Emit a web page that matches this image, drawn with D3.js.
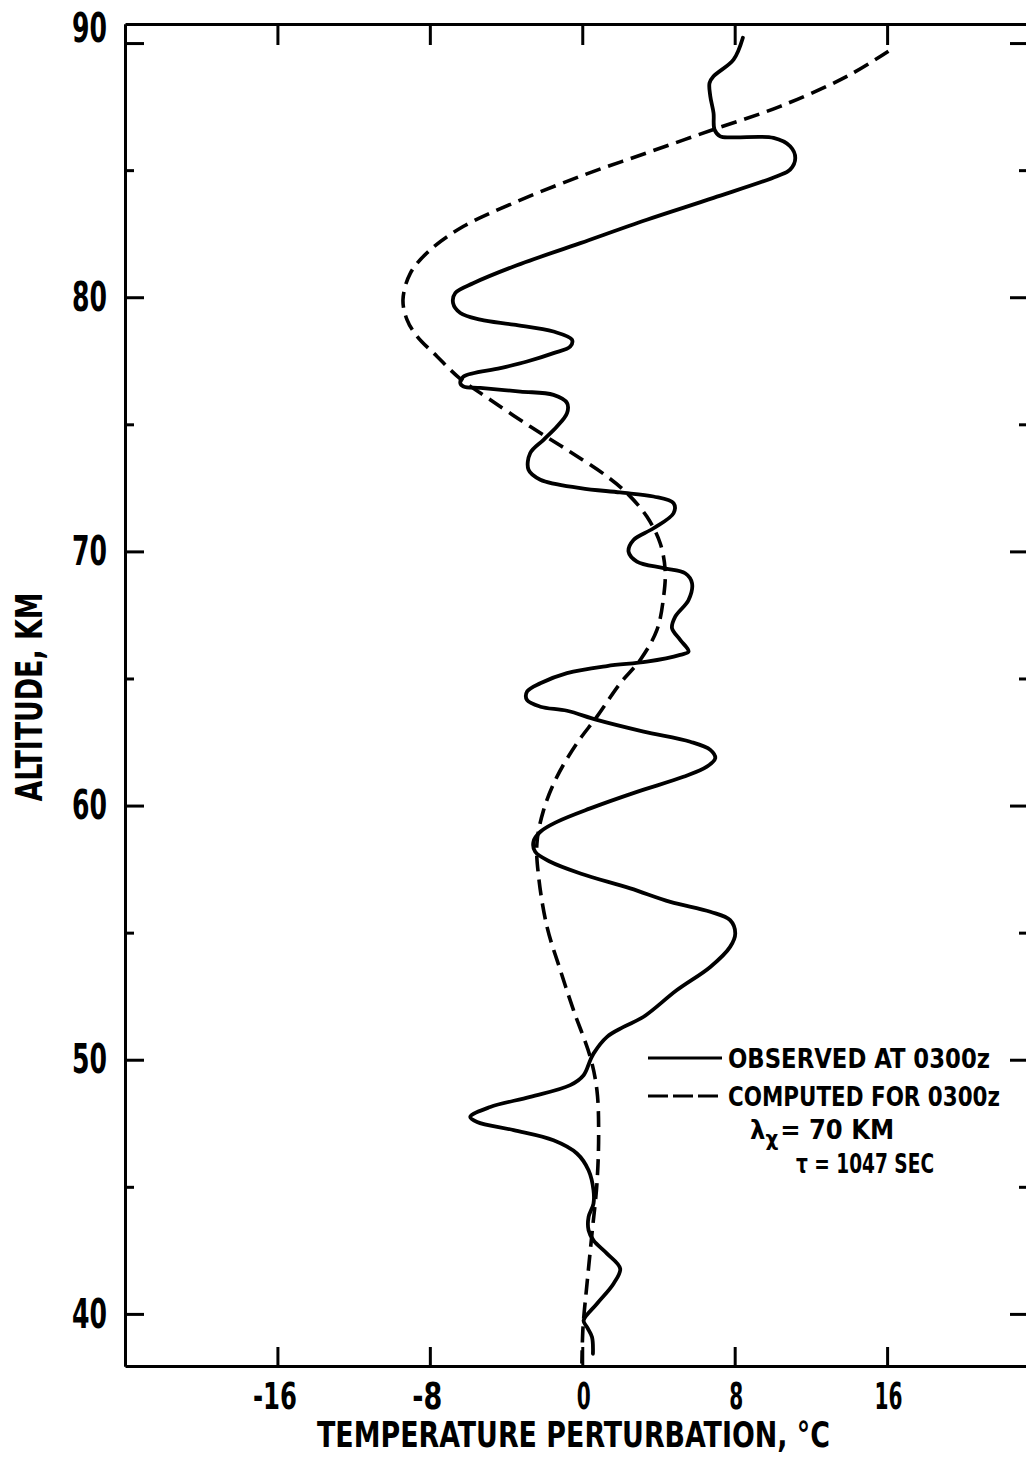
<!DOCTYPE html>
<html>
<head>
<meta charset="utf-8">
<script src="https://cdn.jsdelivr.net/npm/d3@7"></script>
<style>
  body { margin: 0; background: #fff; }
  svg { display: block; }
  text { font-family: "Liberation Sans Narrow", "DejaVu Sans Condensed", "Roboto Condensed", sans-serif; font-weight: bold; fill: #000; }
</style>
</head>
<body>
<svg id="chart" width="1026" height="1463"></svg>
<script>
// Observed temperature perturbation profile (°C) against altitude (km)
const observedTemp = [8.43, 7.94, 6.89, 6.68, 6.72, 6.89, 6.94, 7.24, 7.94, 10.04, 10.91, 11.18, 10.91, 10.22,
  6.89, 3.39, -0.10, -3.60, -5.70, -6.66, -6.78, -6.40, -5.35, -3.60, -1.51, -0.54, -0.63, -1.51, -2.90, -4.30,
  -6.23, -6.40, -6.23, -5.35, -3.25, -1.51, -0.80, -0.80, -1.33, -2.03, -2.73, -2.82, -2.20, -0.10, 1.99, 3.74,
  4.79, 4.79, 3.74, 2.69, 2.43, 2.87, 4.27, 5.40, 5.76, 5.58, 4.88, 4.71, 5.14, 5.58, 5.14, 3.39, 1.30, -0.80,
  -2.20, -2.90, -2.90, -2.20, -0.80, 0.77, 3.22, 5.67, 6.72, 6.98, 6.54, 5.31, 2.87, 0.42, -1.33, -2.20, -2.56,
  -2.47, -1.68, -0.10, 2.52, 4.62, 6.72, 7.76, 8.03, 7.76, 6.72, 4.97, 3.22, 2.17, 1.30, 0.59, 0.42, 0.07, -0.63,
  -2.73, -4.83, -5.88, -5.52, -3.60, -1.51, -0.28, 0.33, 0.59, 0.59, 0.33, 0.33, 0.59, 1.30, 1.99, 1.64, 0.77,
  0.07, 0.25, 0.51, 0.56];
const observedAlt = [90.21, 89.35, 88.69, 88.43, 87.91, 87.25, 86.60, 86.33, 86.29, 86.27, 85.94, 85.48, 85.02, 84.76,
  83.91, 83.05, 82.13, 81.21, 80.56, 80.17, 79.77, 79.38, 79.12, 78.92, 78.65, 78.33, 78.06, 77.80, 77.47, 77.21,
  76.88, 76.62, 76.49, 76.43, 76.29, 76.16, 75.84, 75.44, 74.91, 74.39, 73.87, 73.21, 72.82, 72.49, 72.32, 72.16,
  71.90, 71.50, 70.91, 70.45, 69.99, 69.60, 69.34, 69.14, 68.75, 68.09, 67.43, 66.98, 66.52, 66.06, 65.93, 65.66, 65.49, 65.21,
  64.81, 64.48, 64.15, 63.89, 63.73, 63.37, 62.91, 62.51, 62.19, 61.86, 61.53, 61.13, 60.54, 59.89, 59.36, 58.97, 58.58,
  58.18, 57.79, 57.33, 56.74, 56.21, 55.82, 55.49, 54.97, 54.44, 53.65, 52.74, 51.69, 51.29, 50.90, 50.24, 49.98, 49.39, 49.00,
  48.54, 48.14, 47.75, 47.55, 47.23, 46.83, 46.31, 45.65, 44.86, 44.34, 43.81, 43.29, 42.89, 42.37, 41.78, 41.19, 40.40,
  39.74, 39.48, 39.09, 38.43];

// Computed profile for the same time (λx = 70 km, τ = 1047 s)
const computedTemp = [16.07, 13.89, 10.39, 6.89, 3.39, -0.10, -3.60, -6.23, -7.97, -9.02, -9.41, -9.20, -8.67, -7.62,
  -6.40, -4.83, -2.73, -0.80, 1.30, 2.35, 3.39, 4.09, 4.35, 4.27, 3.92, 3.04, 1.99, 0.77, -0.28, -1.33, -2.03,
  -2.38, -2.29, -1.85, -1.15, -0.46, 0.42, 0.77, 0.86, 0.77, 0.51, 0.25, 0.04, -0.02];
const computedAlt = [89.68, 88.69, 87.51, 86.60, 85.68, 84.76, 83.71, 82.79, 81.87, 80.95, 79.90, 79.12, 78.46, 77.67,
  76.79, 75.97, 74.91, 74.00, 72.95, 72.29, 71.37, 70.32, 69.27, 68.22, 66.91, 65.73, 64.81, 63.50, 62.45, 61.13, 59.82,
  58.51, 57.20, 55.23, 53.52, 51.95, 50.11, 48.80, 47.10, 45.13, 43.16, 41.19, 39.48, 38.05];

const xTickValues = [-16, -8, 0, 8, 16];
const yMajorTicks = [40, 50, 60, 70, 80, 90];
const yMinorTicks = [45, 55, 65, 75, 85];
const xDomain = [-24, 23.5];
const yDomain = [90.75, 37.95];

const legendItems = [
  { label: "OBSERVED AT 0300z", dash: null },
  { label: "COMPUTED FOR 0300z", dash: "20,5" }
];

const svg = d3.select("#chart");

const x = d3.scaleLinear().domain(xDomain).range([125, 1030]);
const y = d3.scaleLinear().domain(yDomain).range([24, 1366]);

const [plotLeft, plotRight] = x.range();
const [plotTop, plotBottom] = y.range();

function styleAxis(g, fontSize) {
  g.attr("font-size", fontSize).attr("font-family", null);
  g.selectAll("path.domain").attr("stroke", "#000").attr("stroke-width", 3);
  g.selectAll(".tick line").attr("stroke", "#000").attr("stroke-width", 3);
  g.selectAll(".tick text").attr("fill", "#000");
}

// Condensed numerals: fixed advance per digit, a little more for the minus sign
function fitNumber(sel, digitWidth, minusWidth) {
  sel.attr("lengthAdjust", "spacingAndGlyphs")
    .attr("textLength", d => {
      const s = String(d);
      const digits = s.replace("-", "").length;
      return digits * digitWidth + (s.startsWith("-") ? minusWidth : 0);
    });
}

// Left axis: labelled majors and short minors, ticks pointing inward
const yLeft = svg.append("g").attr("transform", `translate(${plotLeft},0)`)
  .call(d3.axisLeft(y).tickValues(yMajorTicks).tickSizeInner(-19).tickSizeOuter(0).tickPadding(18).tickFormat(d => String(d)));
styleAxis(yLeft, 41);
fitNumber(yLeft.selectAll(".tick text"), 17.5, 0);
yLeft.selectAll(".tick text").filter(d => d === 90).attr("y", -15);
const yLeftMinor = svg.append("g").attr("transform", `translate(${plotLeft},0)`)
  .call(d3.axisLeft(y).tickValues(yMinorTicks).tickSizeInner(-9).tickSizeOuter(0).tickFormat(""));
styleAxis(yLeftMinor, 10);

// Right axis: ticks only
const yRight = svg.append("g").attr("transform", `translate(${plotRight},0)`)
  .call(d3.axisRight(y).tickValues(yMajorTicks).tickSizeInner(-20).tickSizeOuter(0).tickFormat(""));
styleAxis(yRight, 10);
const yRightMinor = svg.append("g").attr("transform", `translate(${plotRight},0)`)
  .call(d3.axisRight(y).tickValues(yMinorTicks).tickSizeInner(-11).tickSizeOuter(0).tickFormat(""));
styleAxis(yRightMinor, 10);

// Bottom axis with labels, top axis ticks only
const xBottom = svg.append("g").attr("transform", `translate(0,${plotBottom})`)
  .call(d3.axisBottom(x).tickValues(xTickValues).tickSizeInner(-19).tickSizeOuter(0).tickPadding(17).tickFormat(d => String(d)));
styleAxis(xBottom, 37);
fitNumber(xBottom.selectAll(".tick text"), 14, 16);
xBottom.selectAll(".tick text").attr("dx", d => d < 0 ? -3 : 1);
const xTop = svg.append("g").attr("transform", `translate(0,${plotTop})`)
  .call(d3.axisTop(x).tickValues(xTickValues).tickSizeInner(-21).tickSizeOuter(0).tickFormat(""));
styleAxis(xTop, 10);

// Axis titles
svg.append("text")
  .attr("x", (plotLeft + plotRight) / 2 - 4).attr("y", 1447)
  .attr("text-anchor", "middle").attr("font-size", 35)
  .attr("textLength", 513).attr("lengthAdjust", "spacingAndGlyphs")
  .text("TEMPERATURE PERTURBATION, °C");

svg.append("text")
  .attr("transform", "translate(42,697) rotate(-90)")
  .attr("text-anchor", "middle").attr("font-size", 37)
  .attr("textLength", 209).attr("lengthAdjust", "spacingAndGlyphs")
  .text("ALTITUDE, KM");

// Profiles
const line = d3.line()
  .x(d => x(d[0]))
  .y(d => y(d[1]))
  .curve(d3.curveCatmullRom.alpha(0.5));

const observed = observedTemp.map((t, i) => [t, observedAlt[i]]);
const computed = computedTemp.map((t, i) => [t, computedAlt[i]]);

svg.append("path").datum(computed)
  .attr("d", line).attr("fill", "none")
  .attr("stroke", "#000").attr("stroke-width", 3.6)
  .attr("stroke-dasharray", "16,8");

svg.append("path").datum(observed)
  .attr("d", line).attr("fill", "none")
  .attr("stroke", "#000").attr("stroke-width", 3.8)
  .attr("stroke-linejoin", "round").attr("stroke-linecap", "round");

// Legend
const legend = svg.append("g");
const rowY = [1058, 1096];
const textLens = [262, 272];
legendItems.forEach((item, i) => {
  legend.append("line")
    .attr("x1", 648).attr("x2", 722)
    .attr("y1", rowY[i]).attr("y2", rowY[i])
    .attr("stroke", "#000").attr("stroke-width", 3)
    .attr("stroke-dasharray", item.dash);
  legend.append("text")
    .attr("x", 728).attr("y", rowY[i] + 10)
    .attr("font-size", 26)
    .attr("textLength", textLens[i]).attr("lengthAdjust", "spacingAndGlyphs")
    .text(item.label);
});

const lam = legend.append("text").attr("x", 750).attr("y", 1139).attr("font-size", 27);
lam.append("tspan").text("λ");
lam.append("tspan").attr("dy", 7).attr("font-size", 22).text("χ");
lam.append("tspan").attr("dy", -7).attr("dx", 2).text("= 70 KM");

legend.append("text")
  .attr("x", 796).attr("y", 1173).attr("font-size", 27)
  .attr("textLength", 138).attr("lengthAdjust", "spacingAndGlyphs")
  .text("τ = 1047 SEC");
</script>
</body>
</html>
